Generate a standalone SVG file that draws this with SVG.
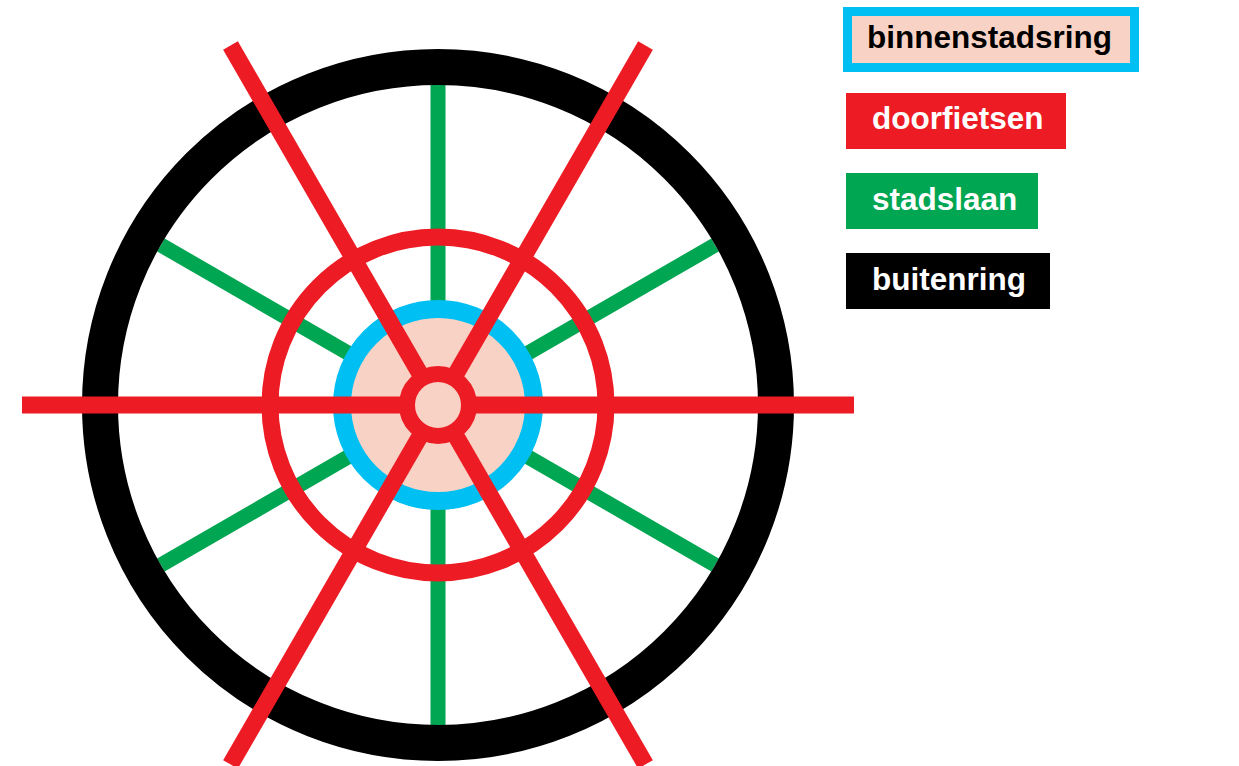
<svg xmlns="http://www.w3.org/2000/svg" width="1239" height="766" viewBox="0 0 1239 766">
<style>
.green{stroke:#00A651;stroke-width:15;fill:none}
.red{stroke:#ED1C24;stroke-width:17;fill:none}
.lbl{font-family:"Liberation Sans",Arial,sans-serif;font-weight:bold;font-size:31.5px}
</style>
<rect width="1239" height="766" fill="#fff"/>
<g id="stadslaan-spokes">
<line class="green" x1="438" y1="85" x2="438" y2="725"/>
<line class="green" x1="160.9" y1="245" x2="715.1" y2="565"/>
<line class="green" x1="160.9" y1="565" x2="715.1" y2="245"/>
</g>
<g id="buitenring">
<circle cx="438" cy="405" r="338" fill="none" stroke="#000" stroke-width="36"/>
</g>
<g id="binnenstadsring">
<circle cx="438" cy="405" r="96" fill="#F8D3C5" stroke="#00BFF3" stroke-width="18"/>
</g>
<g id="doorfietsen-ring">
<circle class="red" cx="438" cy="405" r="168" stroke-width="16"/>
</g>
<g id="connectors">
<line class="red" x1="22" y1="405" x2="854" y2="405"/>
<line class="red" x1="230.5" y1="45.6" x2="645.5" y2="764.4"/>
<line class="red" x1="645.5" y1="45.6" x2="230.5" y2="764.4"/>
</g>
<g id="center">
<circle cx="438" cy="405" r="31" fill="#F8D3C5" stroke="#ED1C24" stroke-width="16"/>
</g>
<g id="legend-binnenstadsring">
<rect x="847.5" y="11.5" width="287" height="56" fill="#F8D3C5" stroke="#00BFF3" stroke-width="9"/>
<text class="lbl" x="867" y="48" fill="#000">binnenstadsring</text>
</g>
<g id="legend-doorfietsen">
<rect x="846" y="93" width="220" height="56" fill="#ED1C24"/>
<text class="lbl" x="872" y="129" fill="#fff">doorfietsen</text>
</g>
<g id="legend-stadslaan">
<rect x="846" y="173" width="192" height="56" fill="#00A651"/>
<text class="lbl" x="872" y="210" fill="#fff">stadslaan</text>
</g>
<g id="legend-buitenring">
<rect x="846" y="253" width="204" height="56" fill="#000"/>
<text class="lbl" x="872" y="290" fill="#fff">buitenring</text>
</g>
</svg>
